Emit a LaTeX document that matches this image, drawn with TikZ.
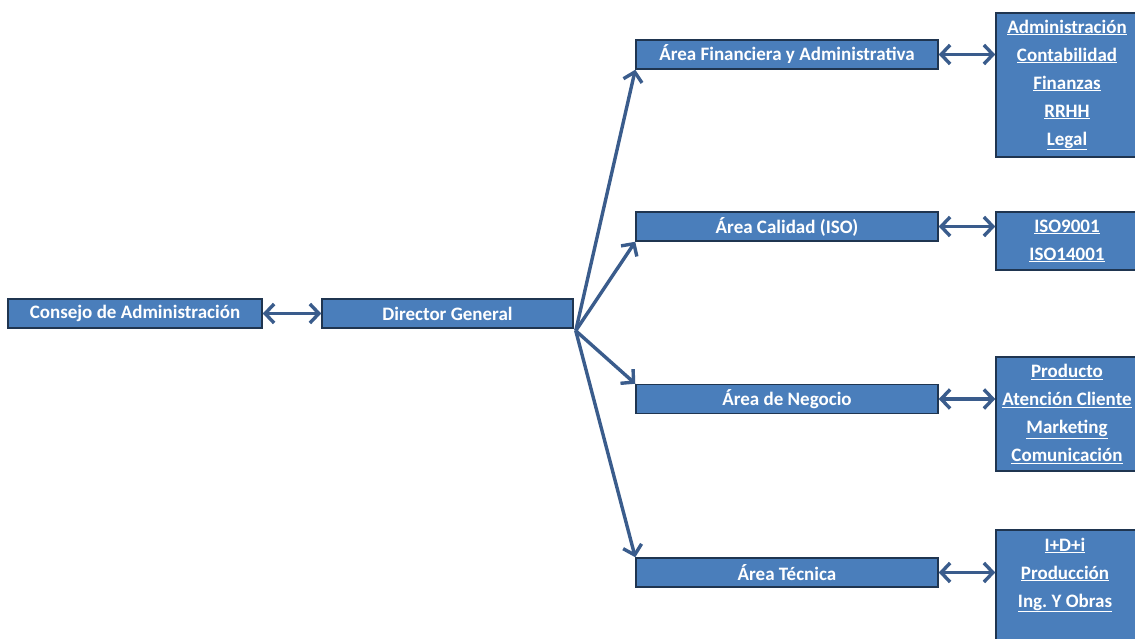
\documentclass[tikz,border=0pt]{standalone}
\usepackage{fontspec}
\setmainfont{Carlito}
\usetikzlibrary{arrows.meta}
\definecolor{boxfill}{HTML}{4A7EBB}
\definecolor{boxline}{HTML}{1F3550}
\definecolor{arrowc}{HTML}{3A5C8C}
\begin{document}
\begin{tikzpicture}[x=1pt,y=-1pt,
  box/.style={draw=boxline,line width=1.5pt,fill=boxfill,text=white,
    font=\fontsize{19}{28}\selectfont\bfseries,inner sep=0pt,align=center},
  lst/.style={text=white,font=\fontsize{19}{28}\selectfont\bfseries,inner sep=0pt,align=center},
  conn/.style={draw=arrowc,line width=3.4pt,
    arrows={-Straight Barb[length=9pt,width=19pt,line width=3.4pt]}},
  dconn/.style={draw=arrowc,line width=3.4pt,
    arrows={Straight Barb[length=9pt,width=19pt,line width=3.4pt]-Straight Barb[length=9pt,width=19pt,line width=3.4pt]}}
]
\useasboundingbox (0,0) rectangle (1135,639);
\fill[white] (0,0) rectangle (1135,639);

\node[box,minimum width=254pt,minimum height=29pt] (cons) at (135,313.5) {Consejo de Administración};
\node[box,minimum width=251pt,minimum height=29pt] (dir) at (447.5,313.5) {Director General};

\node[box,minimum width=302pt,minimum height=29pt] (fin) at (787,54.5) {Área Financiera y Administrativa};
\node[box,minimum width=302pt,minimum height=29pt] (cal) at (787,226.5) {Área Calidad (ISO)};
\node[box,minimum width=302pt,minimum height=29pt] (neg) at (787,399) {Área de Negocio};
\node[box,minimum width=302pt,minimum height=29pt] (tec) at (787,572.5) {Área Técnica};

\node[box,minimum width=142pt,minimum height=144pt] (rfin) at (1067,85)
  {\underline{Administración}\\\underline{Contabilidad}\\\underline{Finanzas}\\\underline{RRHH}\\\underline{Legal}};
\node[box,minimum width=142pt,minimum height=58pt] (rcal) at (1067,241)
  {\underline{ISO9001}\\\underline{ISO14001}};
\node[box,minimum width=142pt,minimum height=114pt] (rneg) at (1067,414)
  {\underline{Producto}\\\underline{Atención Cliente}\\\underline{Marketing}\\\underline{Comunicación}};
\node[box,minimum width=142pt,minimum height=120pt] (rtec) at (1067,590) {};
\node[lst] (rtect) at (1065,575) {\underline{I+D+i}\\\underline{Producción}\\\underline{Ing.\ Y Obras}};

\draw[dconn] (cons.east) -- (dir.west);
\coordinate (fan) at ([shift={(2pt,-2pt)}]dir.south east);
\draw[conn] (fan) -- (fin.south west);
\draw[conn] (fan) -- (cal.south west);
\draw[conn] (fan) -- (neg.north west);
\draw[conn] (fan) -- (tec.north west);

\draw[dconn] (fin.east) -- (fin.east -| rfin.west);
\draw[dconn] (cal.east) -- (cal.east -| rcal.west);
\draw[dconn] (neg.east) -- (neg.east -| rneg.west);
\draw[dconn] (tec.east) -- (tec.east -| rtec.west);
\end{tikzpicture}
\end{document}
